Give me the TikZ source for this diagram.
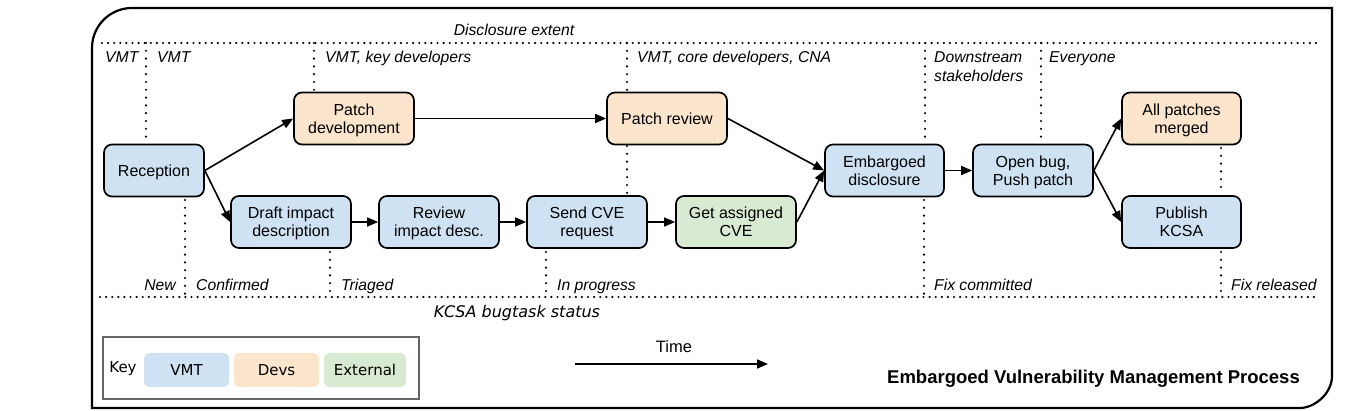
\documentclass[tikz,border=0pt]{standalone}
\usepackage{fontspec}
\setmainfont{Liberation Sans}
\newfontfamily\dejavu{DejaVu Sans}
\usetikzlibrary{arrows.meta}
\definecolor{cblue}{HTML}{CFE2F3}
\definecolor{corange}{HTML}{FCE5CD}
\definecolor{cgreen}{HTML}{D9EAD3}
\definecolor{keygray}{HTML}{666666}
\tikzset{
  proc/.style={draw=black, line width=1.7pt, rounded corners=8pt, minimum width=120pt,
    minimum height=52pt, inner sep=2pt, align=center, text depth=0pt,
    font=\fontsize{16}{18.3}\selectfont},
  vmt/.style={proc, fill=cblue},
  dev/.style={proc, fill=corange},
  ext/.style={proc, fill=cgreen},
  flow/.style={line width=1.6pt, -{Triangle[length=11pt,width=9pt]}},
  hdot/.style={line width=2.4pt, dash pattern=on 0pt off 6.1pt, line cap=round},
  vdot/.style={line width=2.4pt, dash pattern=on 0pt off 7.8pt, line cap=round},
  lab/.style={font=\fontsize{15.7}{18}\selectfont\itshape, inner sep=0pt, align=left},
  keybox/.style={rounded corners=5pt, minimum width=85pt, minimum height=34pt, inner sep=0pt,
    font=\dejavu\fontsize{15}{18}\selectfont},
  frame/.style={line width=2.2pt}
}
\begin{document}
\begin{tikzpicture}[x=1pt,y=-1pt]
\useasboundingbox (0,0) rectangle (1368,411);
% outer frame
\draw[frame] (92,408) -- (92,48) .. controls (92,25.9) and (109.9,8) .. (132,8)
  -- (1332,8) -- (1332,376) .. controls (1332,393.7) and (1314.3,408) .. (1300,408) -- cycle;

% horizontal dotted lines
\draw[hdot] (102,43) -- (1320,43);
\draw[hdot] (100,297) -- (1320,297);
\node[lab, anchor=base] (disc) at (514,35.5) {Disclosure extent};
\node[lab, anchor=base, font=\dejavu\fontsize{16}{18}\selectfont\itshape] (kcsa) at (517,318) {KCSA bugtask status};

% process nodes
\node[vmt, minimum width=100pt] (rec) at (154,170.5) {Reception};
\node[dev] (pdev) at (354,118.5) {Patch\\development};
\node[dev] (prev) at (667,118.5) {Patch review};
\node[vmt, minimum width=119pt] (emb) at (884.5,170.5) {Embargoed\\disclosure};
\node[vmt] (open) at (1033,170.5) {Open bug,\\Push patch};
\node[dev, minimum width=119pt] (merged) at (1181.5,118.5) {All patches\\merged};
\node[vmt, minimum width=119pt] (pub) at (1181.5,222) {Publish\\KCSA};
\node[vmt] (draft) at (291,222) {Draft impact\\description};
\node[vmt] (review) at (439,222) {Review\\impact desc.};
\node[vmt] (send) at (587,222) {Send CVE\\request};
\node[ext] (cve) at (736,222) {Get assigned\\CVE};

% flow arrows
\draw[flow] (rec.east) -- (pdev.west);
\draw[flow] (rec.east) -- (draft.west);
\draw[flow] (pdev) -- (prev);
\draw[flow] (draft) -- (review);
\draw[flow] (review) -- (send);
\draw[flow] (send) -- (cve);
\draw[flow] (cve.east) -- (emb.west);
\draw[flow] (prev.east) -- (emb.west);
\draw[flow] (emb) -- (open);
\draw[flow] (open.east) -- (merged.west);
\draw[flow] (open.east) -- (pub.west);

% vertical dotted lines (top)
\draw[vdot] (146,43) -- (146,139);
\draw[vdot] (314,43) -- (314,90);
\draw[vdot] (627,43) -- (627,90);
\draw[vdot] (627,146) -- (627,194);
\draw[vdot] (925,43) -- (925,139);
\draw[vdot] (1041,43) -- (1041,139);
\draw[vdot] (1221,148) -- (1221,190);
% vertical dotted lines (bottom)
\draw[vdot] (185,200) -- (185,297);
\draw[vdot] (330,252) -- (330,297);
\draw[vdot] (546,252) -- (546,297);
\draw[vdot] (924,200) -- (924,297);
\draw[vdot] (1221,252) -- (1221,297);

% disclosure labels
\node[lab, anchor=base west] (l1) at (105,63) {VMT};
\node[lab, anchor=base west] (l2) at (157,63) {VMT};
\node[lab, anchor=base west] (l3) at (325,63) {VMT, key developers};
\node[lab, anchor=base west] (l4) at (637,63) {VMT, core developers, CNA};
\node[lab, anchor=base west] (l5) at (934,63) {Downstream};
\node[lab, anchor=base west] (l5b) at (934,81.5) {stakeholders};
\node[lab, anchor=base west] (l6) at (1049,63) {Everyone};

% status labels
\node[lab, anchor=base east] (s1) at (176,290.5) {New};
\node[lab, anchor=base west] (s2) at (196,290.5) {Confirmed};
\node[lab, anchor=base west] (s3) at (341,290.5) {Triaged};
\node[lab, anchor=base west] (s4) at (557,290.5) {In progress};
\node[lab, anchor=base west] (s5) at (934,290.5) {Fix committed};
\node[lab, anchor=base west] (s6) at (1231,290.5) {Fix released};

% key
\node[draw=keygray, line width=1.2pt, minimum width=316pt, minimum height=62pt, inner sep=0pt] (key) at (261,368) {};
\node[font=\dejavu\fontsize{15}{18}\selectfont, inner sep=0pt, anchor=base] (keylab) at (123,372.5) {Key};
\node[keybox, fill=cblue] (k1) at (186.5,370) {VMT};
\node[keybox, fill=corange] (k2) at (276.5,370) {Devs};
\node[keybox, fill=cgreen, minimum width=82pt] (k3) at (365,370) {External};

% time arrow
\coordinate (t0) at (575,364);
\coordinate (t1) at (768,364);
\draw[flow] (t0) -- (t1);
\node[font=\fontsize{16.5}{18}\selectfont, inner sep=0pt, anchor=base] (time) at (674,353) {Time};

% title
\node[font=\fontsize{18.5}{20}\selectfont\bfseries, anchor=base east, inner sep=0pt] (title) at (1300,384) {Embargoed Vulnerability Management Process};
\end{tikzpicture}
\end{document}
